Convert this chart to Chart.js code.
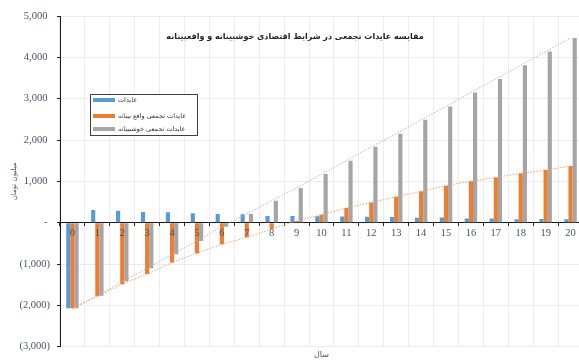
<!DOCTYPE html>
<html>
<head>
<meta charset="utf-8">
<script src="https://cdn.jsdelivr.net/npm/chart.js@4.4.1/dist/chart.umd.min.js"></script>
<style>
  html, body { margin: 0; padding: 0; background: #fff; overflow: hidden; }
  #wrap { position: relative; width: 583px; height: 360px; }
</style>
</head>
<body>
<div id="wrap"><canvas id="c" width="583" height="360"></canvas></div>
<script>
// Years of the project
const years = ['0','1','2','3','4','5','6','7','8','9','10','11','12','13','14','15','16','17','18','19','20'];

// Yearly revenue (million toman)
const revenue = [-2070, 307, 290, 258, 250, 227, 210, 203, 162, 162, 156, 150, 145, 140, 120, 125, 100, 100, 85, 90, 85];

// Cumulative revenue, realistic case
const cumRealistic = [-2070, -1780, -1490, -1240, -966, -740, -523, -355, -152, 40, 193, 355, 490, 628, 758, 894, 1000, 1096, 1193, 1273, 1370];

// Cumulative revenue, optimistic case
const cumOptimistic = [-2070, -1770, -1425, -1102, -764, -443, -97, 210, 531, 838, 1176, 1498, 1836, 2150, 2488, 2811, 3150, 3478, 3809, 4140, 4469];

const seriesNames = ['عایدات', 'عایدات تجمعی واقع بینانه', 'عایدات تجمعی خوشبینانه'];
const chartTitle = 'مقایسه عایدات تجمعی در شرایط اقتصادی خوشبینانه و واقعبینانه';
const yTitle = 'میلیون تومان';
const xTitle = 'سال';

const BLUE = '#5b9bd5', ORANGE = '#ed7d31', GRAY = '#a5a5a5';
const LABEL = '#4a5263';
const persianFont = '"DejaVu Sans", "Noto Sans", sans-serif';
const numFont = '"Liberation Serif", serif';

// accounting style: zero as a dash, negatives in parentheses
function fmt(v) {
  if (v === 0) return '- ';
  const s = Math.abs(v).toLocaleString('en-US');
  return v < 0 ? '(' + s + ')' : s + ' ';
}

// Title and legend drawn inside the plot area
const overlay = {
  id: 'overlay',
  afterDraw(chart) {
    const ctx = chart.ctx;
    ctx.save();
    ctx.fillStyle = '#1f1f1f';
    ctx.font = 'bold 8px ' + persianFont;
    ctx.textAlign = 'center';
    ctx.textBaseline = 'middle';
    ctx.direction = 'rtl';
    ctx.fillText(chartTitle, 295, 37);

    // legend box
    const bx = 90.5, by = 94.5, bw = 107, bh = 41;
    ctx.fillStyle = '#fff';
    ctx.fillRect(bx, by, bw, bh);
    ctx.strokeStyle = '#404040';
    ctx.lineWidth = 1;
    ctx.strokeRect(bx, by, bw, bh);
    const rows = [100, 116, 129];
    const bars = chart.data.datasets.filter(d => d.type === 'bar');
    bars.forEach((ds, i) => {
      ctx.fillStyle = ds.backgroundColor;
      ctx.fillRect(93, rows[i] - 2, 22, 4);
      ctx.fillStyle = '#333';
      ctx.font = '6.5px ' + persianFont;
      ctx.textAlign = 'left';
      ctx.direction = 'ltr';
      ctx.textBaseline = 'middle';
      ctx.fillText(ds.label, 118, rows[i]);
    });
    ctx.restore();
  }
};

new Chart(document.getElementById('c'), {
  data: {
    labels: years,
    datasets: [
      { type: 'bar', label: seriesNames[0], data: revenue, backgroundColor: BLUE, order: 2 },
      { type: 'bar', label: seriesNames[1], data: cumRealistic, backgroundColor: ORANGE, order: 2 },
      { type: 'bar', label: seriesNames[2], data: cumOptimistic, backgroundColor: GRAY, order: 2 },
      { type: 'line', label: seriesNames[1], data: cumRealistic, borderColor: '#f4a070', borderWidth: 1,
        borderDash: [1.5, 1.5], pointRadius: 0, fill: false, tension: 0.4, cubicInterpolationMode: 'monotone', order: 0 },
      { type: 'line', label: seriesNames[2], data: cumOptimistic, borderColor: '#b8b8b8', borderWidth: 1,
        borderDash: [1.5, 1.5], pointRadius: 0, fill: false, tension: 0.4, cubicInterpolationMode: 'monotone', order: 0 }
    ]
  },
  options: {
    responsive: false,
    animation: false,
    layout: { padding: { top: 16, right: 0, bottom: 0, left: 0 } },
    datasets: { bar: { barPercentage: 1, categoryPercentage: 0.5 } },
    plugins: { legend: { display: false }, tooltip: { enabled: false } },
    scales: {
      // category axis crossing at zero; year labels sit above the bars
      x: {
        type: 'category',
        position: { y: 0 },
        offset: true,
        grid: { offset: true, color: '#ececec', tickColor: '#222', tickLength: 3, lineWidth: 1 },
        border: { display: true, color: '#1a1a1a', width: 1 },
        ticks: { z: 1, color: LABEL, font: { family: numFont, size: 10.5 }, padding: 1, maxRotation: 0, autoSkip: false },
        afterFit(scale) { scale.height = 0; }
      },
      x2: {
        type: 'category',
        position: 'bottom',
        labels: years,
        grid: { display: false, drawTicks: false },
        border: { display: false },
        ticks: { display: false },
        title: { display: true, text: xTitle, color: LABEL, font: { family: persianFont, size: 8 }, padding: { top: 0, bottom: 0 } },
        afterFit(scale) { scale.height = 13; }
      },
      y: {
        min: -3000,
        max: 5000,
        ticks: { stepSize: 1000, color: LABEL, font: { family: numFont, size: 10.5 }, padding: 7, callback: v => fmt(v) },
        grid: { color: '#ececec', tickColor: '#222', tickLength: 3 },
        border: { display: true, color: '#1a1a1a', width: 1 },
        title: { display: true, text: yTitle, color: LABEL, font: { family: persianFont, size: 7 }, padding: { top: 10, bottom: 0 } },
        afterFit(scale) { scale.width = 60; }
      }
    }
  },
  plugins: [overlay]
});
</script>
</body>
</html>
